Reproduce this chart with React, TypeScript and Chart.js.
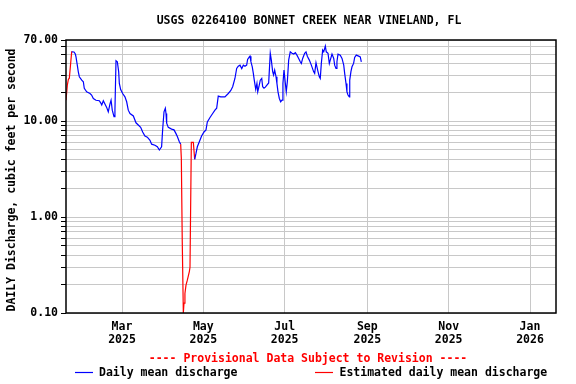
import React, { useEffect, useRef } from 'react';
import { Chart, registerables } from 'chart.js';

Chart.register(...registerables);

const FONT = "'DejaVu Sans Mono', 'Liberation Mono', monospace";

const chartTitle = 'USGS 02264100 BONNET CREEK NEAR VINELAND, FL';
const yAxisTitle = 'DAILY Discharge, cubic feet per second';
const noteText = '---- Provisional Data Subject to Revision ----';
const seriesNames = ['Daily mean discharge', 'Estimated daily mean discharge'];

// x values are day numbers counted from 1 Jan 2025 (= 0)
const xMin = 17;
const xMax = 384.5;
const monthTickDays = [59, 120, 181, 243, 304, 365];
const monthTickLabels = [
  ['Mar', '2025'],
  ['May', '2025'],
  ['Jul', '2025'],
  ['Sep', '2025'],
  ['Nov', '2025'],
  ['Jan', '2026'],
];

const yMin = 0.1;
const yMax = 70;
const yGridValues = [
  0.1, 0.2, 0.3, 0.4, 0.5, 0.6, 0.7, 0.8, 0.9,
  1, 2, 3, 4, 5, 6, 7, 8, 9,
  10, 20, 30, 40, 50, 60, 70,
];
const yLabelValues = [0.1, 1, 10, 70];

// Daily mean discharge (approved-style, blue); null = gap
const dailyDays = [
  21.3, 23, 24, 24.5, 25.5, 26.2, 27, 28.8, 30, 30.7, 32.5, 35, 36.2, 37.5, 39.5, 42, 43, 43.8,
  45, 46.2, 47.5, 48.7, 50, 50.8, 51.7, 53, 53.7, 54.5, 55.5, 56.5, 57, 58, 59.5, 61.2, 62.5,
  63.7, 65, 67.5, 69.5, 71.2, 73, 74.5, 76.2, 78, 80, 81.2, 83.7, 85.5, 87, 88.7, 89.5, 90.5,
  91.5, 92, 92.5, 93.7, 96.2, 98, 99.5, 100.5, 102, 103,
  108,
  113.5, 114.5, 115.5, 117, 118.7, 120.5, 122, 123, 125, 127, 128.7, 130, 131.2, 133, 136.2,
  138.7, 140.5, 142, 143.7, 145, 146.2, 147.5, 148.8, 150, 151.2, 152.5, 153.2, 154.5, 155,
  155.7, 156.7, 157.5, 158.2, 159.3, 160.2, 160.8, 161.7, 162.7, 163.8, 164.5, 165.5, 166.5,
  167.7, 169, 170.2, 171, 172, 172.7, 173.5, 174.5, 175.2, 176, 177, 178, 179, 179.7, 180.5,
  181.5, 182.2, 183, 184, 185.2, 186.5, 187.8, 189, 190.2, 191.5, 192.7, 193.5, 194.5, 196,
  197, 198, 199.5, 201, 202.7, 203.5, 204.5, 206, 207, 207.7, 208.5, 209.5, 210.3, 211.5,
  212.2, 213.5, 214.5, 215.2, 216.5, 217.8, 218.5, 219.5, 220.2, 221, 222.7, 224, 225.3, 226,
  227, 227.7, 228.5, 229.5, 229.8, 230.7, 231.5, 232.7, 233.5, 234.7, 236.5, 237.7, 238.5,
];
const dailyValues = [
  52.7, 52.5, 50, 46.7, 38, 32.8, 29, 26.7, 25.7, 22, 20.2, 19.4, 18.7, 17.2, 16.5, 16.3, 15.5, 14.7,
  16.3, 15.1, 13.9, 12.5, 15.1, 16.5, 13, 11.1, 13, 42.5, 41.5, 32.8, 24.7, 21.3, 19.4, 17.9, 15.9,
  13, 12, 11.3, 9.6, 9.1, 8.6, 7.7, 7.0, 6.8, 6.3, 5.75, 5.6, 5.4, 5.0, 5.4, 8.2, 12.5,
  13.6, 12, 9.5, 8.6, 8.25, 8.1, 7.4, 6.9, 6.1, 5.75,
  null,
  4.0, 4.6, 5.4, 6.1, 7.0, 7.7, 8.1, 9.8, 10.9, 12, 13, 13.6, 18.2, 17.9, 17.9,
  19.4, 20.7, 22.8, 27.8, 35.4, 37.3, 38.3, 35.3, 38.3, 37.3, 38.3, 43.9, 46.7, 47.5,
  41.5, 36.8, 31.4, 26.7, 21.4, 24.7, 20.2, 22.8, 26.7, 27.8, 22.8, 22, 22.6,
  23.7, 25, 50.9, 43.2, 32.8, 30.2, 34, 29, 24.7, 20.2, 17.2, 15.9, 16.5, 24.7, 34,
  24.7, 20.2, 25.7, 43.2, 52.7, 50.9, 50, 51.6, 48.7, 45, 41.5, 39.9, 45, 50.9,
  52.7, 47.5, 43.2, 38.3, 32.8, 31.4, 40.6, 32.8, 29, 27.8, 39.9, 55, 52.7, 60.5,
  52.7, 50.9, 39.9, 43.2, 49.9, 45, 38.3, 35.4, 41.5, 49.9, 48.7, 45, 38.3, 31.4,
  24.7, 20.2, 18.7, 17.9, 26.7, 32.8, 36.8, 39.9, 46.1, 48.7, 47.5, 46.7, 41.5,
];

// Estimated daily mean discharge (red); null = gap
const estDays = [
  17, 18, 18.8, 19.5, 20.5, 21.3,
  60,
  103, 103.5, 104.2, 105, 105.5, 106.2, 107, 108, 109.5, 110, 111, 112.5, 113.5,
];
const estValues = [
  16.5, 23.7, 27.3, 28, 40, 53.5,
  null,
  5.75, 4.1, 0.55, 0.1, 0.127, 0.16, 0.195, 0.22, 0.27, 0.3, 6.0, 6.0, 4.0,
];

const textPlugin = {
  id: 'usgsText',
  afterDraw(chart: any) {
    const ctx = chart.ctx as CanvasRenderingContext2D;
    const a = chart.chartArea;
    ctx.save();
    ctx.strokeStyle = '#000';
    ctx.lineWidth = 1.5;
    ctx.strokeRect(a.left, a.top, a.right - a.left, a.bottom - a.top);

    ctx.font = `bold 11.5px ${FONT}`;
    ctx.fillStyle = '#000';
    ctx.textAlign = 'center';
    ctx.textBaseline = 'middle';
    ctx.fillText(chartTitle, 309, 21);

    ctx.save();
    ctx.translate(12, 180);
    ctx.rotate(-Math.PI / 2);
    ctx.fillText(yAxisTitle, 0, 0);
    ctx.restore();

    ctx.fillStyle = '#ff0000';
    ctx.fillText(noteText, 308, 359);

    // legend
    ctx.lineWidth = 1.2;
    ctx.strokeStyle = '#0000ff';
    ctx.beginPath();
    ctx.moveTo(75, 372.5);
    ctx.lineTo(93, 372.5);
    ctx.stroke();
    ctx.strokeStyle = '#ff0000';
    ctx.beginPath();
    ctx.moveTo(315, 372.5);
    ctx.lineTo(333, 372.5);
    ctx.stroke();
    ctx.fillStyle = '#000';
    ctx.textAlign = 'left';
    ctx.fillText(seriesNames[0], 99, 373);
    ctx.fillText(seriesNames[1], 339.5, 373);
    ctx.restore();
  },
};

export default function App() {
  const ref = useRef<HTMLCanvasElement | null>(null);

  useEffect(() => {
    document.body.style.margin = '0';
    const canvas = ref.current;
    if (!canvas) return;
    const tickFont = { family: FONT, size: 11.5, weight: 'bold' as const, lineHeight: 1.15 };
    const chart = new Chart(canvas, {
      type: 'line',
      data: {
        datasets: [
          {
            label: seriesNames[0],
            data: dailyDays.map((d, i) => ({ x: d, y: dailyValues[i] })) as any,
            borderColor: '#0000ff',
            backgroundColor: '#0000ff',
            borderWidth: 1.2,
            pointRadius: 0,
            tension: 0,
            spanGaps: false,
          },
          {
            label: seriesNames[1],
            data: estDays.map((d, i) => ({ x: d, y: estValues[i] })) as any,
            borderColor: '#ff0000',
            backgroundColor: '#ff0000',
            borderWidth: 1.2,
            pointRadius: 0,
            tension: 0,
            spanGaps: false,
          },
        ],
      },
      options: {
        responsive: false,
        animation: false,
        layout: { padding: { left: 0, right: 20, top: 40, bottom: 0 } },
        plugins: {
          legend: { display: false },
          title: { display: false },
          tooltip: { enabled: false },
        },
        scales: {
          x: {
            type: 'linear',
            min: xMin,
            max: xMax,
            afterBuildTicks: (s: any) => {
              s.ticks = monthTickDays.map((v) => ({ value: v }));
            },
            afterFit: (s: any) => {
              s.height = 71;
            },
            grid: { color: '#c8c8c8', lineWidth: 1, drawTicks: false },
            border: { display: false },
            ticks: {
              autoSkip: false,
              maxRotation: 0,
              padding: 7,
              color: '#000',
              font: tickFont,
              callback: (v: any) => {
                const i = monthTickDays.indexOf(Number(v));
                return i >= 0 ? monthTickLabels[i] : '';
              },
            },
          },
          y: {
            type: 'logarithmic',
            min: yMin,
            max: yMax,
            afterBuildTicks: (s: any) => {
              s.ticks = yGridValues.map((v) => ({ value: v }));
            },
            afterFit: (s: any) => {
              s.width = 66;
            },
            grid: { color: '#c8c8c8', lineWidth: 1, tickColor: '#000', tickLength: 5 },
            border: { display: false },
            ticks: {
              autoSkip: false,
              padding: 3,
              color: '#000',
              font: tickFont,
              callback: (v: any) => (yLabelValues.includes(Number(v)) ? Number(v).toFixed(2) : ''),
            },
          },
        },
      },
      plugins: [textPlugin],
    });
    return () => chart.destroy();
  }, []);

  return <canvas ref={ref} width={576} height={384} style={{ display: 'block' }} />;
}
